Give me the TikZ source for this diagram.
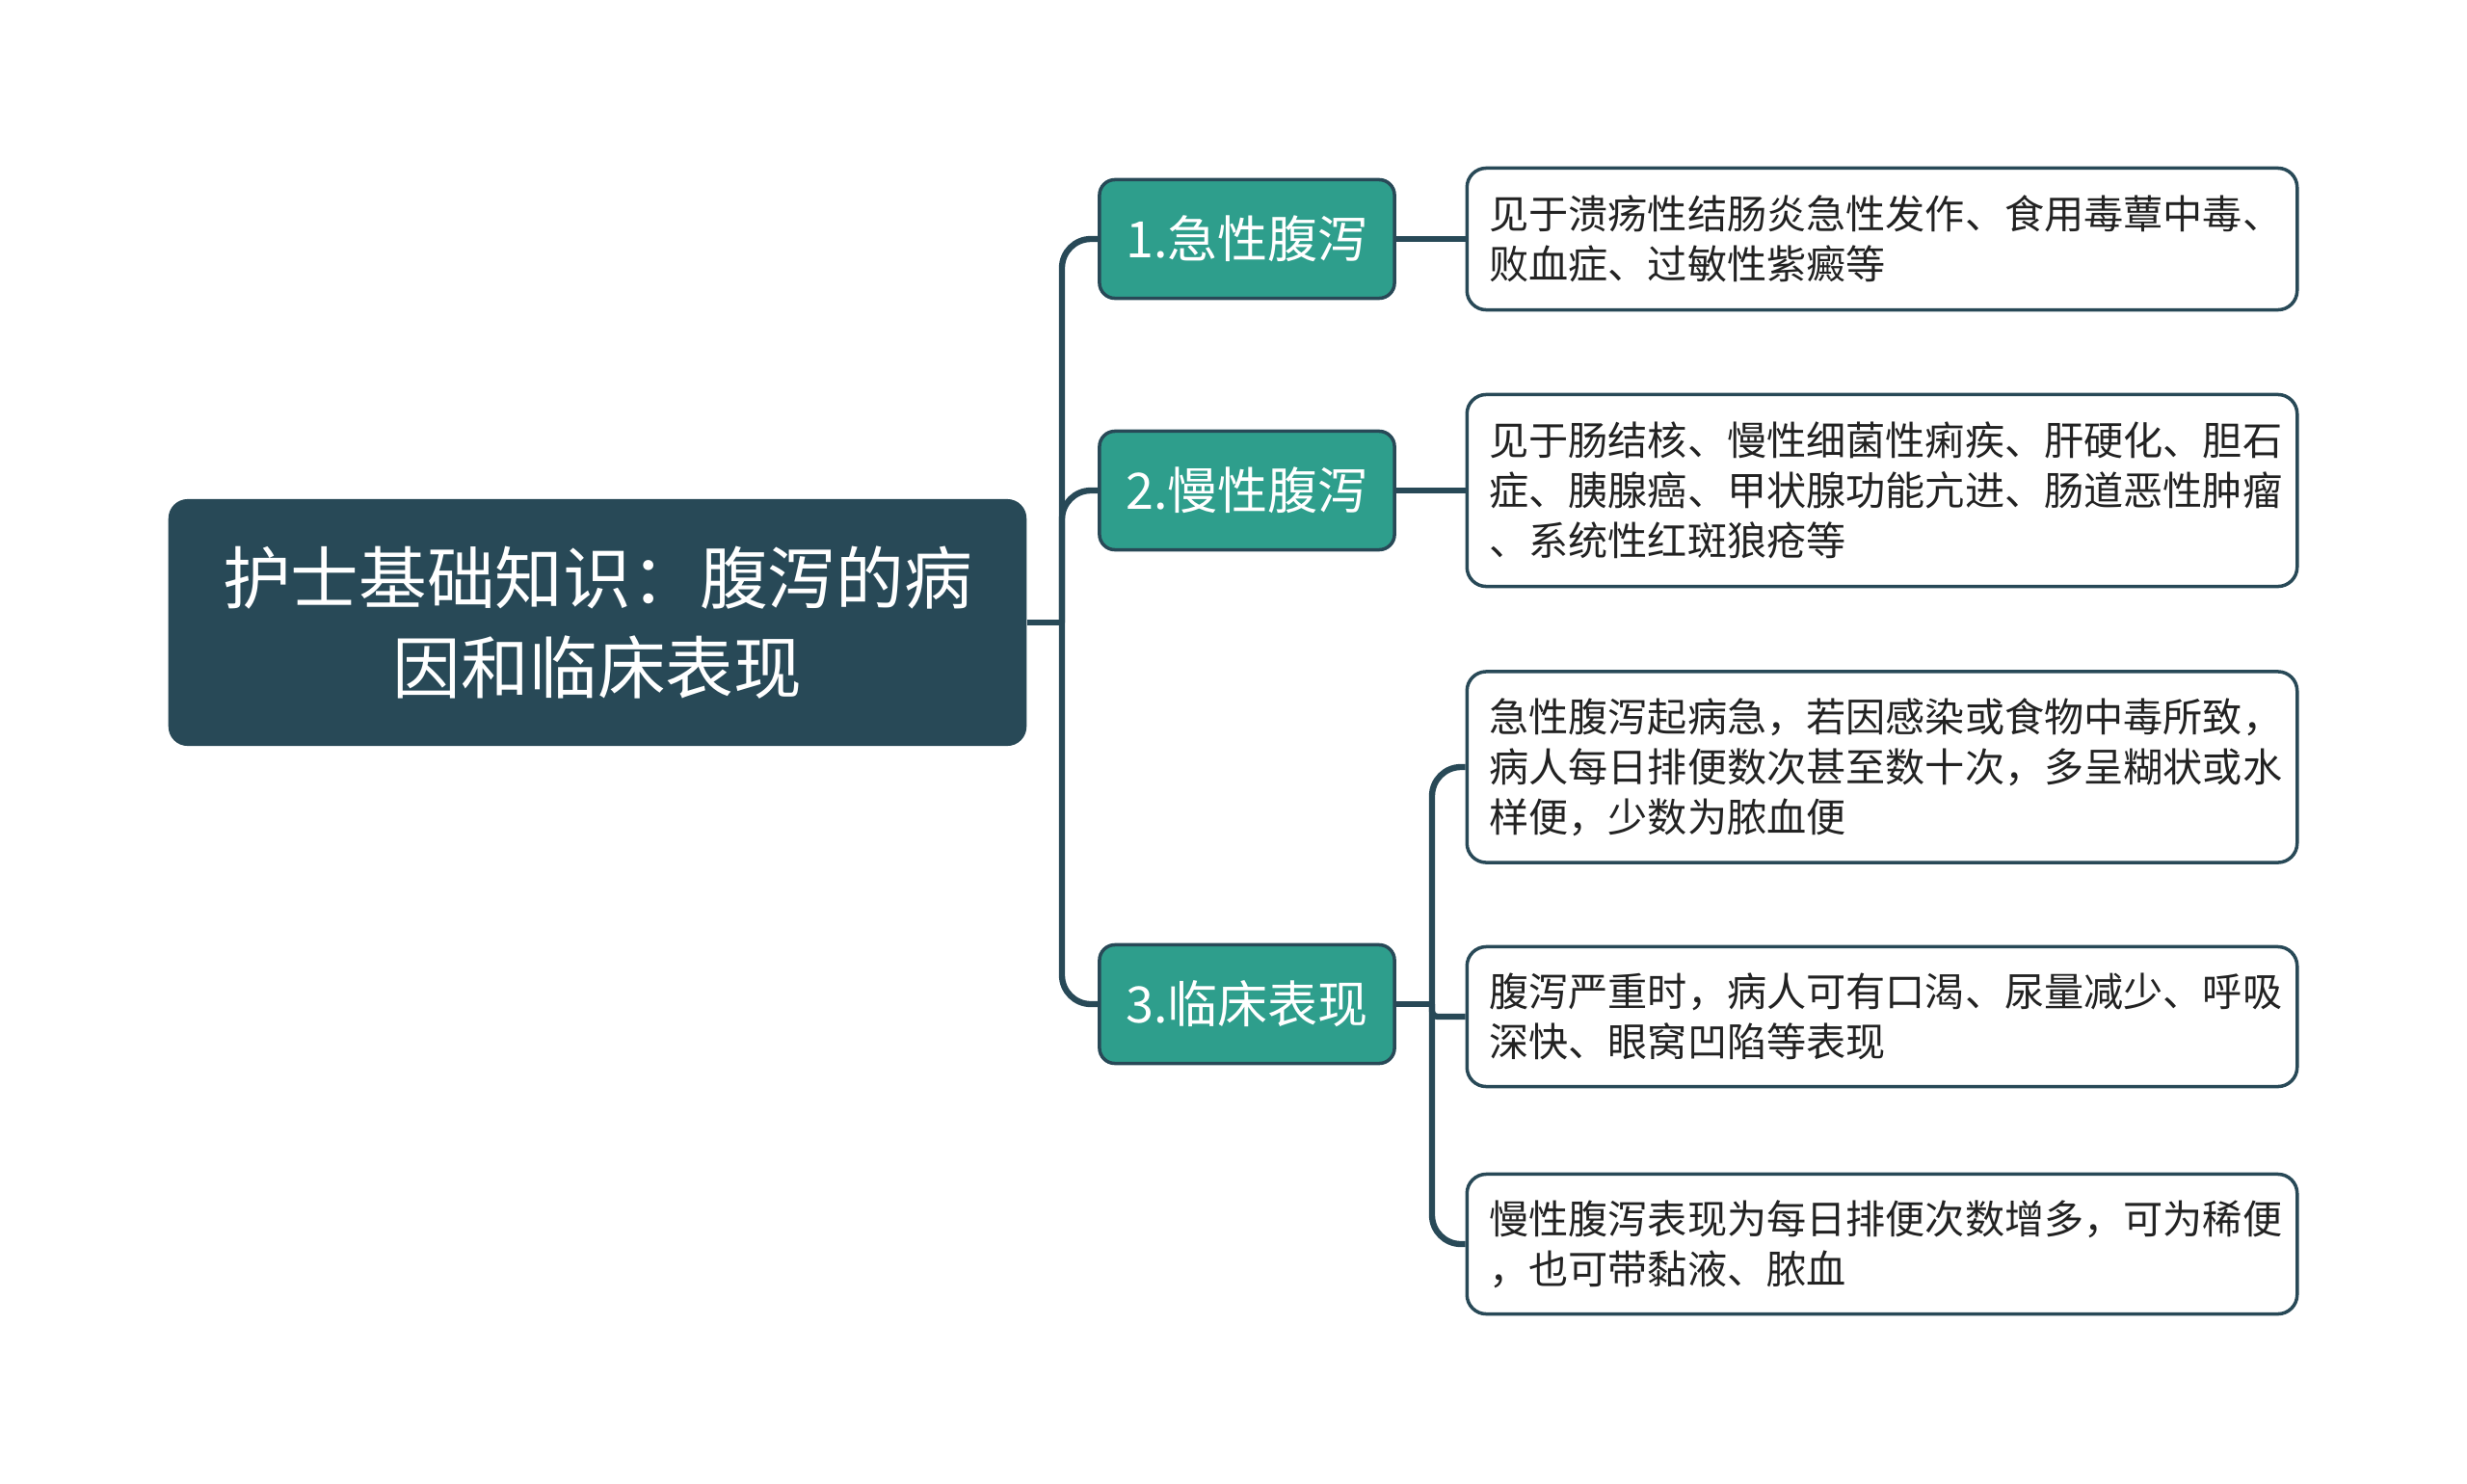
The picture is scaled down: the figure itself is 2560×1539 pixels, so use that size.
\documentclass[tikz,border=0pt]{standalone}
\usepackage{fontspec}
\newfontfamily\cjk{Noto Sans CJK SC}
\definecolor{rootcol}{HTML}{284957}
\definecolor{tealcol}{HTML}{2E9E8C}
\definecolor{linecol}{HTML}{284957}
\definecolor{textcol}{HTML}{222222}
\begin{document}
\begin{tikzpicture}[x=0.01cm, y=-0.01cm]
    % Define basic node styles
    \tikzset{
        root/.style={
            rectangle,
            rounded corners=0.2cm,
            fill=rootcol,
            text=white,
            minimum width=8.9cm,
            minimum height=2.56cm,
            align=center,
            font=\cjk\fontsize{20.1}{26.5}\selectfont
        },
        branch/.style={
            rectangle,
            rounded corners=0.16cm,
            draw=linecol,
            line width=1pt,
            fill=tealcol,
            text=white,
            minimum width=3.06cm,
            minimum height=1.23cm,
            font=\cjk\fontsize{14.8}{18}\selectfont
        },
        leaf/.style={
            rectangle,
            rounded corners=0.2cm,
            draw=linecol,
            line width=1pt,
            fill=white,
            text=textcol,
            text width=8.15cm,
            inner xsep=0.23cm,
            align=left,
            font=\cjk\fontsize{11.7}{14.8}\selectfont
        },
        link/.style={draw=linecol, line width=1.8pt}
    }
    \useasboundingbox (0,0) rectangle (2560,1539);

    % Root
    \node[root] (root) at (620,646) {护士基础知识：腹泻的病\\因和临床表现};

    % Branches (teal)
    \node[branch] (acute) at (1294,248) {1.急性腹泻};
    \node[branch] (chronic) at (1294,509) {2.慢性腹泻};
    \node[branch] (clinic) at (1294,1042) {3.临床表现};

    % Leaves (white)
    \node[leaf, minimum height=1.47cm] (acuteCause) at (1953,248) {见于溃疡性结肠炎急性发作、食用毒蕈中毒、\\败血症、过敏性紫癜等};
    \node[leaf, minimum height=1.99cm] (chronicCause) at (1953,509) {见于肠结核、慢性细菌性痢疾、肝硬化、胆石\\症、胰腺癌、甲状腺功能亢进、肠道恶性肿瘤\\、系统性红斑狼疮等};
    \node[leaf, minimum height=1.98cm] (acuteSign) at (1953,796) {急性腹泻起病急，若因感染或食物中毒所致，\\病人每日排便数次甚至数十次，多呈糊状或水\\样便，少数为脓血便};
    \node[leaf, minimum height=1.45cm] (severeSign) at (1953,1055) {腹泻严重时，病人可有口渴、尿量减少、呼吸\\深快、眼窝凹陷等表现};
    \node[leaf, minimum height=1.45cm] (chronicSign) at (1953,1291) {慢性腹泻表现为每日排便次数增多，可为稀便\\，也可带黏液、脓血};

    % Connections from root to branches
    \coordinate (trunk) at (1102,646);
    \draw[link] (root.east) -- (trunk);
    \draw[link, rounded corners=0.3cm] (trunk) |- (acute.west);
    \draw[link, rounded corners=0.3cm] (trunk) |- (chronic.west);
    \draw[link, rounded corners=0.3cm] (trunk) |- (clinic.west);

    % Connections from branches to leaves
    \draw[link] (acute.east) -- (acuteCause.west);
    \draw[link] (chronic.east) -- (chronicCause.west);

    \coordinate (sub) at (1486,1042);
    \draw[link] (clinic.east) -- (sub);
    \draw[link, rounded corners=0.3cm] (sub) |- (acuteSign.west);
    \draw[link, rounded corners=0.06cm] (sub) |- (severeSign.west);
    \draw[link, rounded corners=0.3cm] (sub) |- (chronicSign.west);
\end{tikzpicture}
\end{document}
